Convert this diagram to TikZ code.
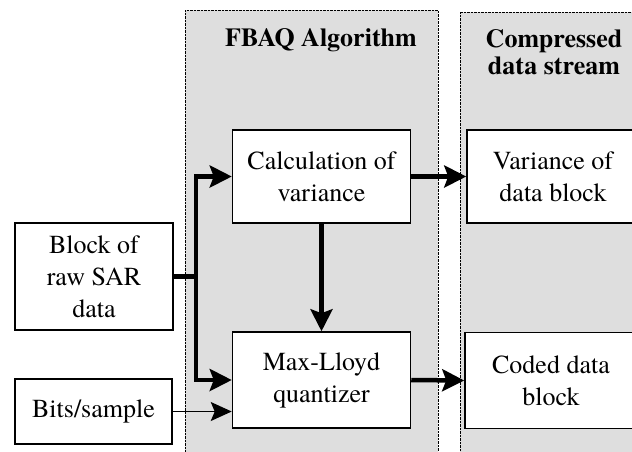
\documentclass[tikz,border=0pt]{standalone}
\usepackage{fontspec}
\setmainfont{texgyretermes}[Extension=.otf,UprightFont=*-regular,
  BoldFont=*-bold]
\usetikzlibrary{arrows.meta}

\begin{document}
\begin{tikzpicture}[x=1pt,y=-1pt]
\tikzstyle{block} = [draw,line width=1.5pt,fill=white,align=center,inner sep=0pt,
  font=\fontsize{26}{32}\selectfont]
\tikzstyle{panel} = [draw,densely dotted,fill=black!13]
\tikzstyle{heading} = [align=center,font=\fontsize{26}{27}\selectfont\bfseries]
\tikzstyle{arrow} = [line width=4.5pt,-{Stealth[length=22pt,width=22pt,inset=4pt]}]
\tikzstyle{thinarrow} = [line width=1.5pt,-{Stealth[length=21pt,width=19pt,inset=4pt]}]
\useasboundingbox (0,0) rectangle (632,451);
% shaded panels
\draw[panel] (185,10) rectangle (438,470);
\draw[panel] (460,12) rectangle (660,470);
\node[heading] (alg) at (321,40) {FBAQ Algorithm};
\node[heading] (stream) at (554,52) {Compressed\\data stream};
% blocks
\node[block,minimum width=158pt,minimum height=107pt] (raw) at (94,276.5)
  {Block of\\raw SAR\\data};
\node[block,minimum width=157pt,minimum height=65pt] (bits) at (93.5,411.5)
  {Bits/sample};
\node[block,minimum width=178pt,minimum height=93pt] (calc) at (321.5,176.5)
  {Calculation of\\variance};
\node[block,minimum width=178pt,minimum height=96pt] (quant) at (321.5,380)
  {Max-Lloyd\\quantizer};
\node[block,minimum width=172pt,minimum height=93pt] (var) at (553,176.5)
  {Variance of\\data block};
\node[block,minimum width=172pt,minimum height=96pt] (coded) at (551,380.5)
  {Coded data\\block};
% connections
\coordinate (split) at (196,276.5);
\draw[line width=4.5pt] (raw.east) -- (split);
\draw[arrow] (split) |- (calc.west);
\draw[arrow] (split) |- (quant.west);
\draw[thinarrow] (bits.east) -- (bits.east -| quant.west);
\draw[arrow] (calc.south) -- (quant.north);
\draw[arrow] (calc.east) -- (var.west);
\draw[arrow] (quant.east) -- (coded.west);
\end{tikzpicture}
\end{document}
